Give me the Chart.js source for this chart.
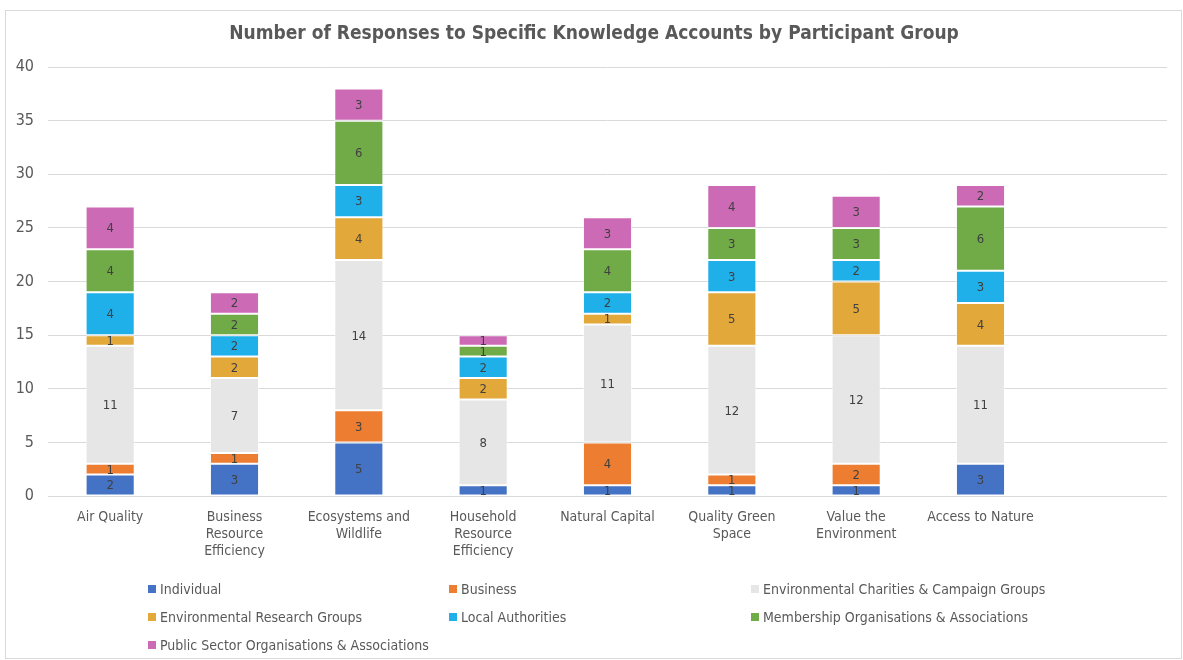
<!DOCTYPE html>
<html>
<head>
<meta charset="utf-8">
<script src="https://cdn.jsdelivr.net/npm/chart.js@4.4.1/dist/chart.umd.min.js"></script>
<style>
  html, body { margin: 0; padding: 0; background: #fff; }
  body { width: 1183px; height: 660px; position: relative; overflow: hidden;
         font-family: "Liberation Sans Narrow", "DejaVu Sans Condensed", sans-serif; color: #595959; }
  #frame { position: absolute; left: 5px; top: 10px; width: 1175px; height: 647px; border: 1px solid #d9d9d9; }
  #title { position: absolute; left: 0; width: 1188px; top: 21px; text-align: center;
           font-weight: bold; font-size: 19px; color: #595959; }
  #wrap { position: absolute; left: 0; top: 0; width: 1183px; height: 660px; }
  .lg { position: absolute; font-size: 14px; line-height: 18px; white-space: nowrap; }
  .lg i { display: inline-block; width: 8px; height: 8px; margin-right: 4px; vertical-align: 1px; }
</style>
</head>
<body>
<div id="frame"></div>
<div id="wrap"><canvas id="chart" width="1183" height="660"></canvas></div>
<div id="title">Number of Responses to Specific Knowledge Accounts by Participant Group</div>
<div id="legend"></div>
<script>
// categories (last slot is empty in the original chart)
const categories = [
    'Air Quality',
    ['Business', 'Resource', 'Efficiency'],
    ['Ecosystems and', 'Wildlife'],
    ['Household', 'Resource', 'Efficiency'],
    'Natural Capital',
    ['Quality Green', 'Space'],
    ['Value the', 'Environment'],
    'Access to Nature',
    ''
];
const yTicks = [0, 5, 10, 15, 20, 25, 30, 35, 40];

// series values, one per category
const individual = [2, 3, 5, 1, 1, 1, 1, 3];
const business = [1, 1, 3, 0, 4, 1, 2, 0];
const envCharities = [11, 7, 14, 8, 11, 12, 12, 11];
const envResearch = [1, 2, 4, 2, 1, 5, 5, 4];
const localAuth = [4, 2, 3, 2, 2, 3, 2, 3];
const membership = [4, 2, 6, 1, 4, 3, 3, 6];
const publicSector = [4, 2, 3, 1, 3, 4, 3, 2];

const seriesNames = [
    'Individual', 'Business', 'Environmental Charities & Campaign Groups',
    'Environmental Research Groups', 'Local Authorities',
    'Membership Organisations & Associations', 'Public Sector Organisations & Associations'
];
const seriesData = [individual, business, envCharities, envResearch, localAuth, membership, publicSector];
const seriesColors = ['#4472C4', '#ED7D31', '#E6E6E6', '#E2A83A', '#1FB0EA', '#71AB48', '#CC6AB5'];

const FONT = '"Liberation Sans Narrow", "DejaVu Sans Condensed", sans-serif';

// draw the value in the middle of every segment
const segmentLabels = {
    id: 'segmentLabels',
    afterDatasetsDraw(chart) {
        const ctx = chart.ctx;
        ctx.save();
        ctx.font = '13px ' + FONT;
        ctx.fillStyle = '#404040';
        ctx.textAlign = 'center';
        ctx.textBaseline = 'middle';
        chart.data.datasets.forEach((ds, i) => {
            const meta = chart.getDatasetMeta(i);
            meta.data.forEach((bar, j) => {
                const v = ds.data[j];
                if (!v) return;
                ctx.fillText(String(v), bar.x, (bar.y + bar.base) / 2 + 1);
            });
        });
        ctx.restore();
    }
};

const chart = new Chart(document.getElementById('chart'), {
    type: 'bar',
    data: {
        labels: categories,
        datasets: seriesNames.map((name, i) => ({
            label: name,
            data: seriesData[i],
            backgroundColor: seriesColors[i],
            borderColor: 'rgba(255,255,255,0.6)',
            borderWidth: 1,
            borderSkipped: false,
            barPercentage: 0.395,
            categoryPercentage: 1
        }))
    },
    options: {
        responsive: false,
        animation: false,
        layout: { padding: { top: 67, right: 16, bottom: 84, left: 0 } },
        plugins: {
            legend: { display: false },
            title: { display: false },
            tooltip: { enabled: false }
        },
        scales: {
            x: {
                stacked: true,
                grid: { display: false },
                border: { display: false },
                ticks: {
                    color: '#595959',
                    font: { family: FONT, size: 14 },
                    padding: 5,
                    maxRotation: 0,
                    autoSkip: false
                },
                afterFit: s => { s.height = 80; }
            },
            y: {
                stacked: true,
                min: 0,
                max: 40,
                afterBuildTicks: s => { s.ticks = yTicks.map(v => ({ value: v })); },
                grid: { color: '#d9d9d9', lineWidth: 1, drawTicks: false },
                border: { display: false },
                ticks: {
                    color: '#595959',
                    font: { family: FONT, size: 16 },
                    padding: 14
                },
                afterFit: s => { s.width = 48; }
            }
        }
    },
    plugins: [segmentLabels]
});

// legend in three columns, like the original
const legend = document.getElementById('legend');
const colX = [148, 449, 751];
const rowY = [580, 608, 636];
chart.data.datasets.forEach((ds, i) => {
    const el = document.createElement('div');
    el.className = 'lg';
    el.style.left = colX[i % 3] + 'px';
    el.style.top = rowY[Math.floor(i / 3)] + 'px';
    el.innerHTML = '<i style="background:' + ds.backgroundColor + '"></i>' + ds.label;
    legend.appendChild(el);
});
</script>
</body>
</html>
